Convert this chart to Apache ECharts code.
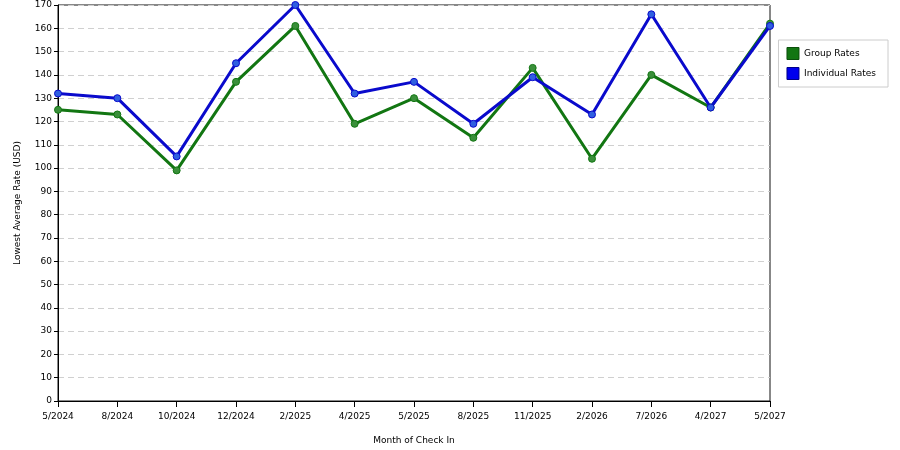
<!DOCTYPE html>
<html><head><meta charset="utf-8">
<script src="https://cdn.jsdelivr.net/npm/echarts@6/dist/echarts.min.js"></script>
<style>html,body{margin:0;padding:0;background:#fff}#c{width:900px;height:450px}</style>
</head><body><div id="c"></div>
<script>
const categories = ['5/2024','8/2024','10/2024','12/2024','2/2025','4/2025','5/2025','8/2025','11/2025','2/2026','7/2026','4/2027','5/2027'];
const groupRates = [125,123,99,137,161,119,130,113,143,104,140,126,162];
const individualRates = [132,130,105,145,170,132,137,119,139,123,166,126,161];
const yTicks = {min:0, max:170, interval:10};

const chart = echarts.init(document.getElementById('c'));
const font = 'DejaVu Sans';
chart.setOption({
  animation:false,
  backgroundColor:'#fff',
  grid:{left:58,right:130,top:5,bottom:49,show:true,borderColor:'#111',borderWidth:1},
  legend:{
    orient:'vertical', right:12, top:40, padding:[7,12,7,8],
    borderColor:'#ccc', borderWidth:1, backgroundColor:'#fff',
    icon:'rect', itemWidth:12, itemHeight:12, itemGap:7,
    textStyle:{fontFamily:font,fontSize:9,color:'#000'},
    data:[
      {name:'Group Rates',itemStyle:{color:'#127612',borderColor:'#0b4f0b',borderWidth:1}},
      {name:'Individual Rates',itemStyle:{color:'#0000ee',borderColor:'#000088',borderWidth:1}}
    ]
  },
  xAxis:{
    type:'category', data:categories, boundaryGap:false,
    name:'Month of Check In', nameLocation:'middle', nameGap:35,
    nameTextStyle:{fontFamily:font,fontSize:9,color:'#000'},
    axisLine:{lineStyle:{color:'#000'}},
    axisTick:{show:true,alignWithLabel:true,length:6,lineStyle:{color:'#000'}},
    axisLabel:{fontFamily:font,fontSize:9,color:'#000',margin:11,interval:0},
    splitLine:{show:false}
  },
  yAxis:{
    type:'value', min:yTicks.min, max:yTicks.max, interval:yTicks.interval,
    name:'Lowest Average Rate (USD)', nameLocation:'middle', nameGap:36,
    nameTextStyle:{fontFamily:font,fontSize:9,color:'#000'},
    axisLine:{show:true,lineStyle:{color:'#000'}},
    axisTick:{show:true,length:4,lineStyle:{color:'#000'}},
    axisLabel:{fontFamily:font,fontSize:9,color:'#000',margin:6},
    splitLine:{show:true,lineStyle:{color:'#d0d0d0',type:[6,4]}}
  },
  series:[
    {name:'Group Rates',type:'line',data:groupRates,symbol:'circle',symbolSize:7,
     lineStyle:{color:'#127612',width:3},
     itemStyle:{color:'#3a8f3a',borderColor:'#127612',borderWidth:1}},
    {name:'Individual Rates',type:'line',data:individualRates,symbol:'circle',symbolSize:7,
     lineStyle:{color:'#0a0acc',width:3},
     itemStyle:{color:'#2f5fe0',borderColor:'#0a0acc',borderWidth:1}}
  ]
});
</script></body></html>
